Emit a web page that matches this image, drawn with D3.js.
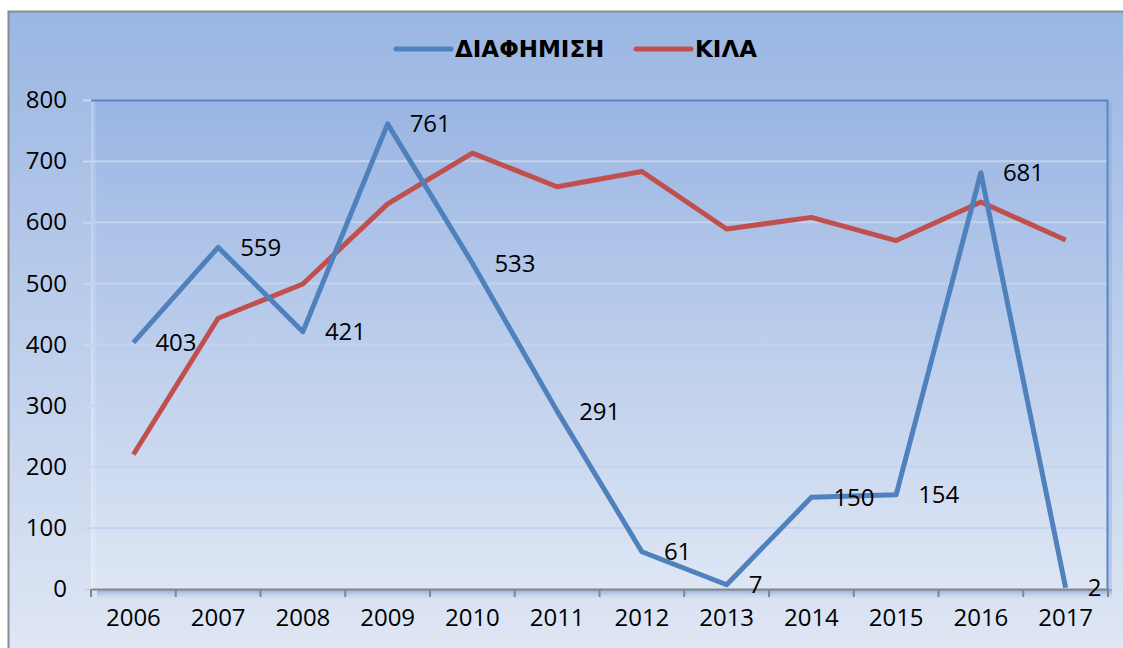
<!DOCTYPE html>
<html>
<head>
<meta charset="utf-8">
<script src="https://cdn.jsdelivr.net/npm/d3@7"></script>
<style>
  body { margin: 0; background: #fff; }
  svg { display: block; }
  .tick text { font-family: "Open Sans", sans-serif; font-size: 24px; fill: #000; }
</style>
</head>
<body>
<div id="chart"></div>
<script>
const years = ["2006", "2007", "2008", "2009", "2010", "2011", "2012", "2013", "2014", "2015", "2016", "2017"];
const diafimisi = [403, 559, 421, 761, 533, 291, 61, 7, 150, 154, 681, 2];
const kila = [220, 443, 499, 630, 713, 658, 683, 589, 608, 570, 633, 571];
const yTicks = [0, 100, 200, 300, 400, 500, 600, 700, 800];
const seriesNames = ["ΔΙΑΦΗΜΙΣΗ", "ΚΙΛΑ"];

(function () {
    const W = 1123, H = 648;
    const margin = { top: 100, right: 15, bottom: 59, left: 91 };
    const width = W - margin.left - margin.right;
    const height = H - margin.top - margin.bottom;

    const svg = d3.select("#chart").append("svg")
        .attr("width", W).attr("height", H);

    const defs = svg.append("defs");
    const bgGrad = defs.append("linearGradient").attr("id", "bgGrad")
        .attr("x1", 0).attr("y1", 0).attr("x2", 0).attr("y2", 1);
    bgGrad.append("stop").attr("offset", "0%").attr("stop-color", "#9ab6e3");
    bgGrad.append("stop").attr("offset", "100%").attr("stop-color", "#e0e7f4");

    const plotGrad = defs.append("linearGradient").attr("id", "plotGrad")
        .attr("x1", 0).attr("y1", 0).attr("x2", 0).attr("y2", 1);
    plotGrad.append("stop").attr("offset", "0%").attr("stop-color", "#9ab5e3");
    plotGrad.append("stop").attr("offset", "100%").attr("stop-color", "#dee6f4");

    const shadowGrad = defs.append("linearGradient").attr("id", "shadowGrad")
        .attr("x1", 0).attr("y1", 0).attr("x2", 0).attr("y2", 1);
    shadowGrad.append("stop").attr("offset", "0%").attr("stop-color", "#7ea3da");
    shadowGrad.append("stop").attr("offset", "100%").attr("stop-color", "#dfe6f4").attr("stop-opacity", 0);

    const leftShadow = defs.append("linearGradient").attr("id", "leftShadow")
        .attr("x1", 0).attr("y1", 0).attr("x2", 1).attr("y2", 0);
    leftShadow.append("stop").attr("offset", "0%").attr("stop-color", "#ffffff").attr("stop-opacity", 0.35);
    leftShadow.append("stop").attr("offset", "100%").attr("stop-color", "#ffffff").attr("stop-opacity", 0);

    // chart area background + border
    svg.append("rect")
        .attr("x", 8.5).attr("y", 11.5).attr("width", W).attr("height", H)
        .attr("fill", "url(#bgGrad)")
        .attr("stroke", "#8c8c8c").attr("stroke-width", 2);

    const g = svg.append("g").attr("transform", `translate(${margin.left},${margin.top})`);

    // plot area
    g.append("rect").attr("x", 6).attr("y", height).attr("width", width - 2).attr("height", 12)
        .attr("fill", "url(#shadowGrad)");
    g.append("rect").attr("x", width).attr("y", 2).attr("width", 4).attr("height", height)
        .attr("fill", "#7ea3da").attr("opacity", 0.35);
    g.append("rect").attr("width", width).attr("height", height).attr("fill", "url(#plotGrad)");
    g.append("rect").attr("width", 6).attr("height", height).attr("fill", "url(#leftShadow)");

    const x = d3.scaleBand().domain(years).range([0, width]);
    const y = d3.scaleLinear().domain([0, 800]).range([height, 0]);
    const cx = d => x(d) + x.bandwidth() / 2;

    // gridlines
    g.append("g").selectAll("line").data(yTicks.filter(t => t > 0 && t < 800)).join("line")
        .attr("x1", 0).attr("x2", width)
        .attr("y1", d => y(d)).attr("y2", d => y(d))
        .attr("stroke", "#c4d3ee").attr("stroke-width", 2);

    // plot border top/right
    g.append("path")
        .attr("d", `M0,0.5H${width - 0.5}V${height}`)
        .attr("fill", "none").attr("stroke", "#5a86c5").attr("stroke-width", 2);

    // y axis
    const yAxis = g.append("g")
        .call(d3.axisLeft(y).tickValues(yTicks).tickSize(8).tickPadding(16));
    yAxis.select(".domain").remove();
    yAxis.selectAll(".tick line").attr("stroke", "#c9d6ee").attr("stroke-width", 2);

    // x axis
    const xAxis = g.append("g").attr("transform", `translate(0,${height})`)
        .call(d3.axisBottom(x).tickSize(0).tickPadding(20));
    xAxis.select(".domain").attr("stroke", "#868686").attr("stroke-width", 2);
    xAxis.append("g").selectAll("line").data(years.concat(["end"])).join("line")
        .attr("x1", (d, i) => i * x.bandwidth()).attr("x2", (d, i) => i * x.bandwidth())
        .attr("y1", 0).attr("y2", 8)
        .attr("stroke", "#868686").attr("stroke-width", 2);

    // lines
    const line = d3.line().x((d, i) => cx(years[i])).y(d => y(d));
    g.append("path").datum(kila)
        .attr("d", line).attr("fill", "none")
        .attr("stroke", "#c0504d").attr("stroke-width", 5).attr("stroke-linejoin", "round");
    g.append("path").datum(diafimisi)
        .attr("d", line).attr("fill", "none")
        .attr("stroke", "#4f81bd").attr("stroke-width", 5).attr("stroke-linejoin", "round");

    // data labels for ΔΙΑΦΗΜΙΣΗ
    g.append("g").selectAll("text").data(diafimisi).join("text")
        .attr("x", (d, i) => cx(years[i]) + 22)
        .attr("y", d => y(d))
        .attr("dy", "0.35em")
        .attr("font-family", "Open Sans, sans-serif").attr("font-size", 24)
        .attr("fill", "#000")
        .text(d => d);

    // legend
    const legend = svg.append("g").attr("transform", "translate(0,49)");
    const legendItems = [
        { name: seriesNames[0], color: "#4f81bd", x: 396 },
        { name: seriesNames[1], color: "#c0504d", x: 636 }
    ];
    legendItems.forEach(it => {
        legend.append("line").attr("x1", it.x).attr("x2", it.x + 55)
            .attr("y1", 0).attr("y2", 0)
            .attr("stroke", it.color).attr("stroke-width", 5).attr("stroke-linecap", "round");
        legend.append("text").attr("x", it.x + 59).attr("y", 0).attr("dy", "0.36em")
            .attr("font-family", "DejaVu Sans, sans-serif").attr("font-weight", "bold")
            .attr("font-size", 23).attr("fill", "#000")
            .text(it.name);
    });
})();
</script>
</body>
</html>
